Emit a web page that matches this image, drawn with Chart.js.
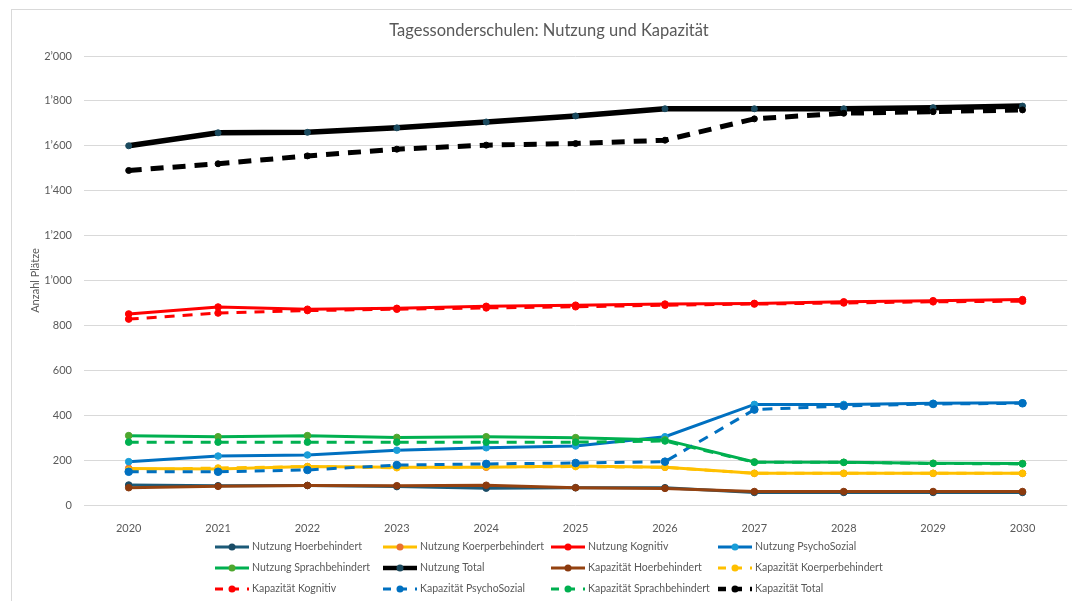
<!DOCTYPE html>
<html>
<head>
<meta charset="utf-8">
<script src="https://cdn.jsdelivr.net/npm/chart.js@4/dist/chart.umd.min.js"></script>
<style>
  html, body { margin: 0; padding: 0; background: #ffffff; }
  #wrap { width: 1072px; height: 601px; position: relative; }
</style>
</head>
<body>
<div id="wrap"><canvas id="chart"></canvas></div>
<script>
// Tagessonderschulen: Nutzung und Kapazität

const years = ['2020', '2021', '2022', '2023', '2024', '2025', '2026', '2027', '2028', '2029', '2030'];

const nutzungHoer     = [89, 86, 87, 82, 75, 77, 77, 56, 56, 56, 56];
const nutzungKoerper  = [163, 160, 171, 168, 168, 174, 168, 141, 141, 141, 141];
const nutzungKognitiv = [851, 882, 872, 876, 885, 890, 895, 898, 905, 910, 915];
const nutzungPsycho   = [193, 218, 223, 244, 255, 263, 304, 448, 448, 453, 455];
const nutzungSprach   = [309, 304, 309, 301, 304, 300, 290, 192, 190, 186, 185];
const nutzungTotal    = [1600, 1658, 1660, 1680, 1706, 1733, 1765, 1765, 1765, 1770, 1777];

const kapHoer     = [77, 83, 87, 86, 88, 77, 74, 60, 60, 60, 60];
const kapKoerper  = [156, 165, 171, 166, 170, 171, 168, 141, 141, 141, 141];
const kapKognitiv = [828, 855, 866, 872, 878, 883, 890, 895, 900, 905, 908];
const kapPsycho   = [148, 148, 156, 178, 183, 187, 193, 425, 441, 450, 453];
const kapSprach   = [280, 280, 280, 280, 280, 280, 285, 190, 190, 185, 183];
const kapTotal    = [1490, 1520, 1555, 1585, 1603, 1610, 1625, 1720, 1745, 1752, 1760];

const yTicks = [0, 200, 400, 600, 800, 1000, 1200, 1400, 1600, 1800, 2000];

const FONT = 'Lato, "Liberation Sans", sans-serif';
const TEXT = '#595959';
const TITLE = 'Tagessonderschulen: Nutzung und Kapazität';

const formatSwiss = v => String(v).replace(/\B(?=(\d{3})+(?!\d))/g, '\u2019');

const series = (label, data, line, marker, opts = {}) => ({
    label: label,
    data: data,
    borderColor: line,
    backgroundColor: marker,
    pointBackgroundColor: marker,
    pointBorderColor: marker,
    pointBorderWidth: 1,
    pointRadius: 3.3,
    pointHoverRadius: 3.3,
    borderWidth: 3,
    tension: 0,
    fill: false,
    ...opts
});

const dash = [10, 8];

const datasets = [
    series('Nutzung Hoerbehindert', nutzungHoer, '#1C5A78', '#1A4C66'),
    series('Nutzung Koerperbehindert', nutzungKoerper, '#FFC000', '#E97132'),
    series('Nutzung Kognitiv', nutzungKognitiv, '#FF0000', '#FF0000'),
    series('Nutzung PsychoSozial', nutzungPsycho, '#0070C0', '#1A9ED8'),
    series('Nutzung Sprachbehindert', nutzungSprach, '#00B050', '#4EA72E'),
    series('Nutzung Total', nutzungTotal, '#000000', '#1B4A5E', { borderWidth: 5.5, pointRadius: 3 }),
    series('Kapazität Hoerbehindert', kapHoer, '#944210', '#8B3A0E'),
    series('Kapazität Koerperbehindert', kapKoerper, '#FFC000', '#FFC000', { borderDash: dash }),
    series('Kapazität Kognitiv', kapKognitiv, '#FF0000', '#FF0000', { borderDash: dash }),
    series('Kapazität PsychoSozial', kapPsycho, '#0070C0', '#0070C0', { borderDash: dash, pointRadius: 3.8 }),
    series('Kapazität Sprachbehindert', kapSprach, '#00B050', '#00B050', { borderDash: dash }),
    series('Kapazität Total', kapTotal, '#000000', '#000000', { borderWidth: 5, borderDash: [13, 9], pointRadius: 3 })
];
// later series drawn on top, like the original
datasets.forEach((d, i) => { d.order = datasets.length - i; });

// title, thin frame and a 4 column legend below the plot
const excelDecor = {
    id: 'excelDecor',
    beforeDraw(chart) {
        const c = chart.ctx;
        c.save();
        c.fillStyle = '#ffffff';
        c.fillRect(0, 0, chart.width, chart.height);
        c.strokeStyle = '#d9d9d9';
        c.lineWidth = 1;
        c.strokeRect(11.5, 9.5, 1200, 800);
        c.fillStyle = TEXT;
        c.font = '16.5px ' + FONT;
        c.textAlign = 'center';
        c.textBaseline = 'middle';
        c.fillText(TITLE, 549, 31);
        c.restore();
    },
    afterDraw(chart) {
        const c = chart.ctx;
        const colX = [215, 383, 551, 718];
        const rowY = [547, 568, 589];
        c.save();
        c.font = '10.5px ' + FONT;
        c.textBaseline = 'middle';
        c.textAlign = 'left';
        datasets.forEach((d, i) => {
            const x = colX[i % 4];
            const y = rowY[Math.floor(i / 4)];
            c.strokeStyle = d.borderColor;
            c.lineWidth = Math.min(d.borderWidth, 4.5);
            c.setLineDash(d.borderDash ? [8, 8] : []);
            c.beginPath();
            c.moveTo(x, y);
            c.lineTo(x + 34, y);
            c.stroke();
            c.setLineDash([]);
            c.fillStyle = d.pointBackgroundColor;
            c.beginPath();
            c.arc(x + 17, y, 3.5, 0, Math.PI * 2);
            c.fill();
            c.fillStyle = TEXT;
            c.fillText(d.label, x + 37, y);
        });
        c.restore();
    }
};

new Chart(document.getElementById('chart'), {
    type: 'line',
    data: { labels: years, datasets: datasets },
    plugins: [excelDecor],
    options: {
        responsive: true,
        maintainAspectRatio: false,
        animation: false,
        layout: { padding: { left: 0, right: 3, top: 56, bottom: 68 } },
        plugins: {
            legend: { display: false },
            tooltip: { enabled: false },
            title: { display: false }
        },
        scales: {
            x: {
                offset: true,
                grid: { display: false },
                border: { display: false },
                ticks: { color: TEXT, font: { family: FONT, size: 11 }, padding: 9 },
                afterFit: scale => { scale.height = 28; }
            },
            y: {
                min: 0,
                max: 2000,
                afterBuildTicks: scale => { scale.ticks = yTicks.map(v => ({ value: v })); },
                grid: { color: '#d9d9d9', drawTicks: false },
                border: { display: false },
                ticks: {
                    color: TEXT,
                    font: { family: FONT, size: 11 },
                    padding: 12,
                    callback: v => formatSwiss(v)
                },
                title: {
                    display: true,
                    text: 'Anzahl Plätze',
                    color: TEXT,
                    font: { family: FONT, size: 11, lineHeight: 1.2 },
                    padding: { top: 29, bottom: 0 }
                },
                afterFit: scale => { scale.width = 84; }
            }
        }
    }
});
</script>
</body>
</html>
